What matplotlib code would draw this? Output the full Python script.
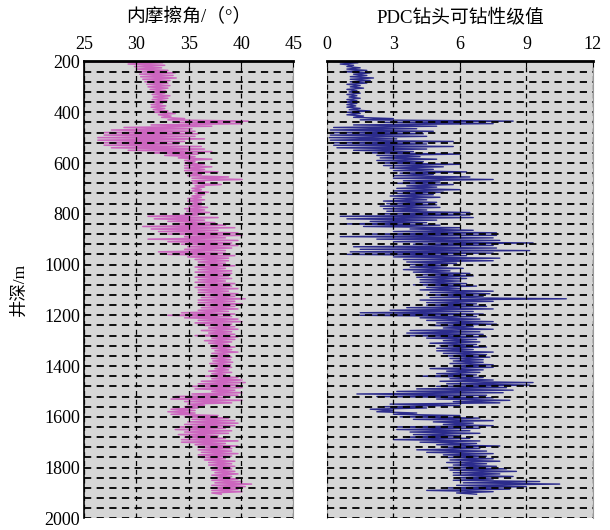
import numpy as np
import matplotlib
matplotlib.use("Agg")
import matplotlib.pyplot as plt

plt.rcParams['font.family'] = ['Liberation Serif', 'Noto Sans CJK SC', 'DejaVu Sans']

# depth samples (m), every 10 m
depth = np.arange(200, 1910, 10)

# 内摩擦角: left / right edge of the trace at each depth
phi_lo = [25.2, 29.2, 29.8, 30.0, 30.1, 30.3, 30.4, 30.6, 30.8, 31.0,
          31.1, 31.3, 31.4, 31.5, 31.6, 31.5, 31.6, 31.4, 31.4, 31.6,
          31.7, 32.1, 32.4, 33.0, 34.0, 31.4, 28.8, 27.6, 26.9, 26.9,
          26.3, 26.3, 26.6, 26.9, 27.6, 29.2, 31.1, 32.7, 34.0, 34.6,
          34.6, 34.6, 34.6, 34.6, 34.9, 34.9, 35.3, 35.3, 35.3, 35.6,
          35.3, 35.3, 35.6, 35.3, 34.9, 34.9, 35.3, 35.0, 34.6, 34.8,
          34.6, 31.1, 31.7, 33.0, 34.0, 30.6, 31.4, 32.1, 33.0, 34.6,
          31.1, 33.0, 34.3, 34.9, 34.6, 32.1, 33.0, 34.9, 35.6, 35.9,
          35.9, 35.6, 35.9, 35.6, 35.9, 35.6, 35.9, 35.6, 35.9, 35.6,
          35.9, 35.9, 36.2, 36.2, 35.9, 35.9, 35.9, 36.2, 35.9, 34.3,
          33.0, 34.6, 35.9, 35.6, 36.5, 36.9, 36.2, 36.9, 35.6, 37.2,
          36.5, 36.9, 37.2, 37.2, 37.5, 37.2, 37.5, 37.2, 37.3, 37.0,
          37.2, 37.5, 36.9, 37.2, 36.5, 37.2, 36.2, 35.9, 35.3, 35.6,
          37.2, 35.3, 33.7, 33.3, 34.6, 34.9, 34.6, 33.3, 33.0, 33.3,
          34.6, 35.3, 34.9, 34.6, 34.0, 33.7, 34.6, 34.0, 34.6, 34.3,
          34.3, 35.6, 35.9, 35.9, 36.2, 35.9, 36.2, 36.5, 36.9, 36.9,
          37.2, 37.2, 37.5, 37.2, 37.5, 37.2, 37.5, 37.2, 37.2, 37.2,
          37.2]
phi_hi = [32.5, 32.7, 32.4, 33.0, 33.7, 33.5, 33.8, 33.2, 33.0, 33.2,
          33.0, 32.8, 32.7, 33.2, 33.0, 32.9, 32.5, 32.8, 32.7, 33.0,
          33.7, 33.3, 34.6, 40.7, 40.1, 37.2, 35.3, 35.6, 35.9, 35.6,
          36.5, 34.6, 34.0, 36.2, 36.5, 37.2, 35.9, 35.6, 37.2, 35.6,
          36.5, 37.2, 36.5, 37.8, 36.2, 38.8, 40.1, 36.5, 38.1, 36.5,
          36.2, 36.9, 36.5, 36.2, 36.5, 36.2, 36.2, 36.8, 36.5, 37.0,
          35.9, 37.8, 36.5, 37.5, 38.5, 39.4, 37.8, 39.7, 40.1, 38.5,
          39.7, 39.1, 39.7, 39.1, 38.5, 38.5, 39.4, 38.8, 38.8, 38.5,
          39.4, 38.5, 39.1, 39.1, 38.8, 39.1, 38.5, 39.4, 39.1, 39.7,
          38.8, 39.7, 39.4, 40.4, 39.4, 40.1, 39.4, 39.7, 38.8, 39.4,
          39.1, 39.7, 40.1, 39.1, 39.4, 39.7, 39.1, 39.4, 39.7, 39.4,
          39.1, 38.8, 39.4, 39.1, 39.7, 38.8, 39.1, 39.0, 39.2, 39.0,
          39.1, 38.8, 39.1, 38.5, 39.7, 40.1, 40.4, 39.7, 40.1, 39.4,
          40.1, 39.7, 38.5, 40.1, 39.1, 36.5, 35.9, 35.6, 35.6, 37.8,
          38.8, 39.4, 39.7, 39.4, 38.5, 39.1, 38.8, 37.8, 38.5, 39.7,
          38.5, 39.7, 39.1, 39.1, 39.7, 39.1, 38.5, 39.4, 39.1, 39.4,
          39.1, 39.4, 39.7, 39.1, 39.7, 40.1, 41.0, 40.4, 39.7, 40.1,
          38.1]

# PDC钻头可钻性级值: left / right edge of the trace at each depth
kd_lo = [0.3, 0.6, 0.9, 0.9, 0.75, 1.2, 1.05, 1.05, 1.05, 0.9,
         1.05, 0.9, 1.0, 0.9, 1.0, 0.9, 0.8, 0.9, 0.9, 1.0,
         0.9, 0.9, 1.2, 1.5, 2.4, 1.2, 0.3, 0.15, 0.15, 0.15,
         0.1, 0.15, 0.2, 0.3, 0.45, 1.2, 1.8, 2.25, 2.4, 2.25,
         2.4, 2.55, 2.85, 3.0, 3.3, 3.0, 3.0, 3.45, 3.15, 3.6,
         3.15, 3.0, 3.15, 2.85, 3.0, 2.55, 2.7, 2.4, 2.55, 2.7,
         2.4, 0.6, 0.9, 1.95, 0.75, 1.65, 3.75, 3.0, 1.8, 0.6,
         2.25, 3.0, 3.9, 1.2, 1.5, 1.05, 0.9, 3.0, 3.45, 3.6,
         3.75, 3.75, 3.45, 3.9, 4.2, 4.05, 4.2, 4.2, 3.9, 4.5,
         4.2, 4.65, 4.5, 4.65, 4.2, 4.5, 4.5, 3.6, 2.85, 1.5,
         1.5, 4.2, 4.5, 4.95, 4.65, 5.25, 3.75, 3.6, 3.45, 4.5,
         5.25, 4.65, 5.1, 4.95, 4.95, 5.25, 5.4, 5.55, 5.7, 5.55,
         5.7, 4.65, 5.4, 4.95, 4.2, 5.55, 5.1, 5.4, 4.95, 4.05,
         3.15, 1.35, 2.25, 4.95, 5.7, 2.85, 2.55, 1.95, 2.25, 3.0,
         3.3, 3.9, 4.8, 5.25, 3.0, 3.15, 3.75, 3.9, 3.6, 3.0,
         4.2, 4.95, 5.25, 4.05, 4.5, 5.25, 5.4, 5.55, 5.4, 5.7,
         5.25, 5.55, 5.7, 5.7, 5.85, 5.7, 6.15, 5.85, 5.4, 4.5,
         5.85]
kd_hi = [1.4, 1.2, 1.5, 1.8, 1.95, 1.8, 2.1, 1.95, 1.8, 1.5,
         1.65, 1.35, 1.5, 1.35, 1.5, 1.35, 1.35, 1.3, 1.5, 1.95,
         1.5, 1.65, 3.0, 8.4, 7.5, 4.95, 4.05, 4.8, 4.35, 4.5,
         3.15, 5.7, 4.5, 5.7, 4.5, 3.9, 6.0, 4.2, 4.95, 4.35,
         6.0, 5.25, 4.8, 6.3, 4.8, 6.45, 7.5, 5.1, 5.7, 4.95,
         6.0, 5.25, 4.8, 5.1, 4.5, 4.95, 4.95, 5.1, 4.5, 6.45,
         6.45, 6.6, 4.95, 4.5, 5.1, 6.0, 6.6, 7.65, 7.65, 7.5,
         7.8, 9.3, 7.5, 7.65, 9.15, 7.5, 6.3, 7.8, 7.5, 5.85,
         5.4, 6.15, 5.55, 6.45, 6.6, 6.3, 6.0, 6.3, 6.75, 6.0,
         7.5, 7.35, 7.05, 10.8, 7.5, 6.75, 7.2, 7.5, 6.6, 7.05,
         6.75, 6.9, 7.5, 7.65, 6.6, 7.5, 6.9, 7.05, 7.2, 6.75,
         6.9, 6.75, 7.2, 6.6, 7.5, 7.2, 7.35, 7.05, 7.05, 7.5,
         7.5, 7.05, 6.9, 6.75, 7.05, 7.5, 9.3, 9.15, 8.1, 8.4,
         7.95, 7.2, 7.5, 8.25, 7.8, 6.0, 4.5, 3.0, 4.05, 6.0,
         6.9, 7.5, 6.6, 7.5, 6.9, 6.45, 6.9, 6.0, 6.45, 6.9,
         6.75, 7.8, 6.9, 7.2, 7.5, 7.2, 7.5, 7.8, 7.2, 7.65,
         8.1, 8.55, 7.8, 8.4, 7.5, 9.6, 10.5, 9.0, 8.25, 7.5,
         6.75]

x1_ticks = [25, 30, 35, 40, 45]
x2_ticks = [0, 3, 6, 9, 12]
y_ticks = [200, 400, 600, 800, 1000, 1200, 1400, 1600, 1800, 2000]

pink = '#cc66bf'
navy = '#2c2c8c'
bg = '#d6d6d6'

fig = plt.figure(figsize=(6.1, 5.3), dpi=100)
ax1 = fig.add_axes([0.138, 0.022, 0.343, 0.862])
ax2 = fig.add_axes([0.536, 0.022, 0.436, 0.862])


def zigzag(lo, hi):
    ys = np.column_stack([depth, depth + 5]).ravel()
    xs = np.column_stack([lo, hi]).ravel()
    return xs, ys


def style(ax, xticks, xlim):
    ax.set_facecolor(bg)
    ax.set_xlim(xlim)
    ax.set_ylim(2000, 200)
    ax.xaxis.tick_top()
    ax.set_xticks(xticks)
    ax.set_yticks(y_ticks)
    ax.set_yticks(np.arange(240, 2000, 40), minor=True)
    ax.tick_params(axis='x', which='major', direction='in', length=4,
                   labelsize=13, pad=6, top=True, bottom=False)
    ax.tick_params(axis='y', which='both', length=0)
    ax.grid(True, axis='x', which='major', color='black', ls=(0, (4, 3)), lw=0.9)
    ax.grid(True, axis='y', which='both', color='black', ls=(0, (4, 3)), lw=1.3)
    ax.set_axisbelow(False)
    ax.spines['top'].set_linewidth(2.0)
    ax.spines['top'].set_color('black')
    ax.spines['bottom'].set_visible(False)
    ax.spines['right'].set_color('#9a9a9a')
    ax.spines['left'].set_color('#9a9a9a')


style(ax1, x1_ticks, (25, 45))
style(ax2, x2_ticks, (0, 12))

x, y = zigzag(phi_lo, phi_hi)
ax1.plot(x, y, color=pink, lw=1.1, zorder=1)
x, y = zigzag(kd_lo, kd_hi)
ax2.plot(x, y, color=navy, lw=1.0, zorder=1)

ax1.spines['left'].set_color('black')
ax1.spines['left'].set_linewidth(1.2)
ax1.tick_params(axis='y', labelsize=13, pad=3)
ax1.set_yticklabels([str(v) for v in y_ticks])
ax2.set_yticklabels([])

ax1.set_ylabel('井深/m', fontsize=12.5, labelpad=12)
ax1.set_title('内摩擦角/（°）', fontsize=13.5, pad=28)
ax2.set_title('PDC钻头可钻性级值', fontsize=13.5, pad=28)

fig.savefig('out.png', dpi=100)
